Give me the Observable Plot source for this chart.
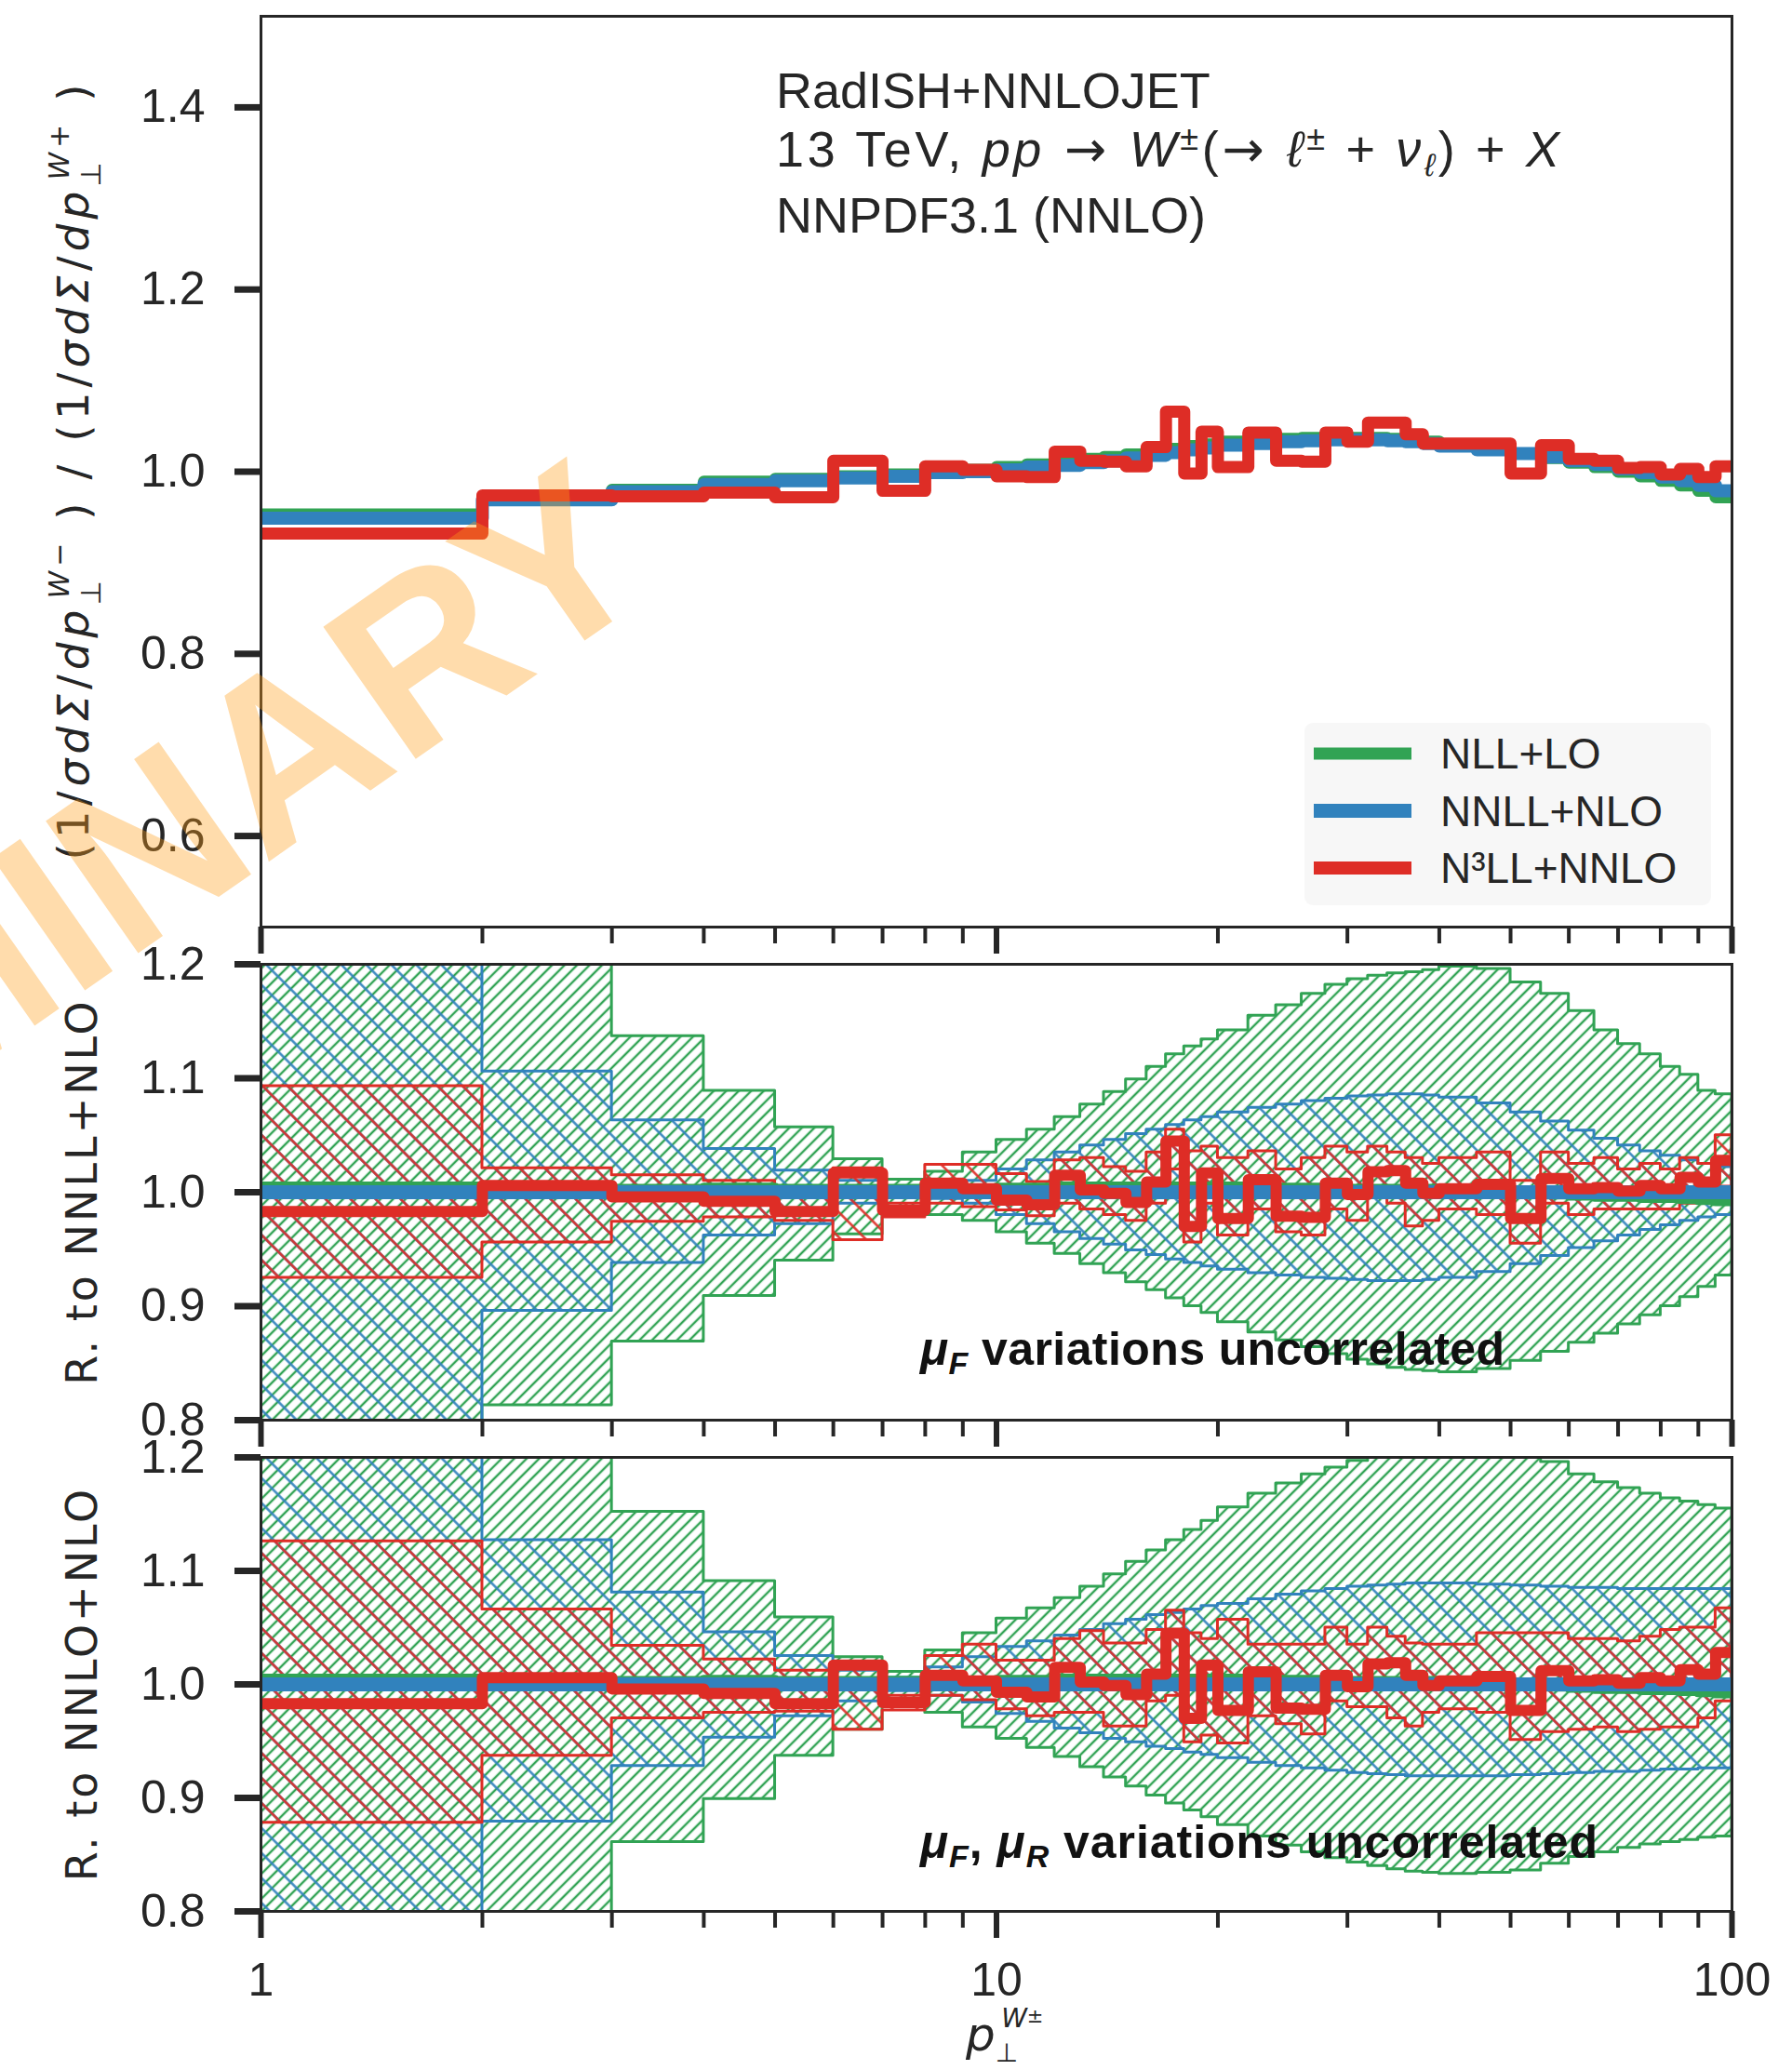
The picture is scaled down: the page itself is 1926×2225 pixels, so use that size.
<!DOCTYPE html>
<html>
<head>
<meta charset="utf-8">
<script src="https://cdn.jsdelivr.net/npm/d3@7"></script>
<script src="https://cdn.jsdelivr.net/npm/@observablehq/plot@0.6"></script>
<style>
html, body { margin:0; padding:0; background:#fff; }
#wrap { position:relative; width:1926px; height:2225px; overflow:hidden; background:#fff; }
#wrap > svg { position:absolute; left:0; overflow:visible; }
</style>
</head>
<body>
<div id="wrap">
<svg id="defs" width="0" height="0" style="position:absolute;top:0;left:0">
<defs>
  <pattern id="hatchNLL" patternUnits="userSpaceOnUse" width="9.5" height="9.5" patternTransform="rotate(45)">
    <line x1="4.75" y1="-1" x2="4.75" y2="10.5" stroke="#31a354" stroke-width="2.4"/>
  </pattern>
  <pattern id="hatchNNLL" patternUnits="userSpaceOnUse" width="19" height="19" patternTransform="rotate(-45)">
    <line x1="9.5" y1="-1" x2="9.5" y2="20" stroke="#3182bd" stroke-width="2.4"/>
  </pattern>
  <pattern id="hatchN3LL" patternUnits="userSpaceOnUse" width="19" height="19" patternTransform="rotate(-45)">
    <line x1="9.5" y1="-1" x2="9.5" y2="20" stroke="#de2d26" stroke-width="2.4"/>
  </pattern>
</defs>
</svg>
</div>
<script>
// ---------------- data ----------------
const binEdges = [1,2,3,4,5,6,7,8,9,10,11,12,13,14,15,16,17,18,19,20,
  22,24,26,28,30,32,34,36,38,40,
  45,50,55,60,65,70,75,80,85,90,95,100];

// top panel: ratio W- / W+
const topNLL = [0.953,0.972,0.980,0.989,0.992,0.995,0.997,1.001,1.002,1.005,1.008,1.011,1.014,1.016,1.019,1.022,1.025,1.028,1.030,
  1.033,1.035,1.036,1.037,1.037,1.037,1.037,1.036,1.035,1.033,
  1.029,1.025,1.020,1.015,1.010,1.005,1.000,0.995,0.990,0.985,0.979,0.972];
const topNNLL = [0.949,0.969,0.978,0.986,0.990,0.993,0.995,0.999,1.000,1.002,1.005,1.007,1.010,1.012,1.015,1.018,1.021,1.024,1.026,
  1.029,1.031,1.033,1.034,1.035,1.035,1.035,1.034,1.033,1.031,
  1.028,1.024,1.020,1.016,1.012,1.008,1.003,0.999,0.994,0.990,0.985,0.979];
const topN3LL = [0.932,0.974,0.973,0.977,0.972,1.012,0.979,1.006,1.002,0.995,0.994,1.022,1.012,1.011,1.006,1.027,1.066,0.998,1.044,
  1.005,1.043,1.012,1.011,1.043,1.033,1.054,1.054,1.041,1.031,
  1.031,1.031,0.998,1.029,1.014,1.012,1.004,1.005,0.997,1.003,0.994,1.006];

// ratio panels: central lines (relative to NNLL+NLO)
const ratioNLL = [1.004,1.003,1.002,1.003,1.002,1.002,1.002,1.002,1.002,1.003,1.003,1.004,1.004,1.004,1.004,1.004,1.004,1.004,1.004,
  1.004,1.004,1.003,1.003,1.002,1.002,1.002,1.002,1.002,1.002,
  1.001,1.001,1.000,0.999,0.998,0.997,0.997,0.996,0.996,0.995,0.994,0.993];
const ratioNNLL = [1.0];
const ratioN3LL = [0.983,1.006,0.996,0.992,0.983,1.017,0.984,1.008,1.003,0.993,0.989,1.015,1.002,0.999,0.991,1.009,1.045,0.970,1.017,
  0.977,1.011,0.979,0.978,1.008,0.998,1.018,1.019,1.008,0.999,
  1.003,1.007,0.977,1.012,1.003,1.004,1.001,1.006,1.003,1.013,1.009,1.028];

// middle panel: muF variations uncorrelated
const nllHiF = [1.35,1.25,1.137,1.089,1.057,1.029,1.011,1.018,1.035,1.046,1.055,1.066,1.077,1.088,1.099,1.110,1.121,1.128,1.134,
  1.142,1.155,1.164,1.174,1.182,1.187,1.190,1.192,1.193,1.195,
  1.198,1.196,1.184,1.174,1.159,1.142,1.130,1.121,1.110,1.103,1.089,1.086];
const nllLoF = [0.65,0.813,0.869,0.909,0.940,0.963,0.987,0.980,0.975,0.965,0.955,0.946,0.937,0.929,0.921,0.914,0.907,0.900,0.894,
  0.886,0.877,0.870,0.864,0.858,0.853,0.849,0.846,0.844,0.843,
  0.842,0.845,0.852,0.860,0.868,0.876,0.884,0.892,0.900,0.908,0.917,0.927];
const nnllHiF = [1.30,1.106,1.063,1.038,1.019,1.010,1.004,1.005,1.010,1.020,1.028,1.035,1.041,1.046,1.051,1.055,1.059,1.063,1.066,
  1.070,1.074,1.077,1.080,1.082,1.084,1.085,1.086,1.086,1.085,
  1.083,1.078,1.070,1.062,1.054,1.047,1.041,1.036,1.032,1.028,1.025,1.022];
const nnllLoF = [0.70,0.896,0.938,0.962,0.972,0.990,0.995,0.994,0.990,0.980,0.972,0.965,0.959,0.954,0.949,0.945,0.941,0.938,0.935,
  0.932,0.929,0.927,0.925,0.924,0.923,0.922,0.922,0.922,0.923,
  0.925,0.930,0.937,0.944,0.951,0.957,0.962,0.967,0.971,0.975,0.978,0.980];
const n3llHiF = [1.093,1.021,1.015,1.010,1.005,1.021,0.990,1.024,1.024,1.016,1.009,1.028,1.030,1.022,1.018,1.035,1.055,1.036,1.040,
  1.030,1.036,1.020,1.030,1.040,1.035,1.040,1.035,1.030,1.025,
  1.030,1.035,1.010,1.035,1.025,1.030,1.020,1.025,1.020,1.030,1.025,1.050];
const n3llLoF = [0.925,0.956,0.974,0.978,0.975,0.958,0.978,0.990,0.987,0.984,0.979,0.990,0.985,0.980,0.975,0.990,1.020,0.956,0.990,
  0.962,0.985,0.965,0.962,0.985,0.975,0.995,0.990,0.970,0.975,
  0.985,0.980,0.955,0.990,0.980,0.985,0.985,0.985,0.985,0.990,0.990,1.005];

// bottom panel: muF, muR variations uncorrelated
const nllHiFR = [1.40,1.30,1.152,1.091,1.059,1.024,1.011,1.030,1.045,1.058,1.067,1.076,1.086,1.097,1.108,1.118,1.127,1.136,1.144,
  1.156,1.168,1.177,1.185,1.191,1.197,1.205,1.210,1.214,1.217,
  1.220,1.218,1.210,1.196,1.185,1.178,1.173,1.168,1.164,1.161,1.158,1.155];
const nllLoFR = [0.60,0.70,0.861,0.899,0.937,0.960,0.982,0.975,0.962,0.952,0.944,0.936,0.927,0.918,0.910,0.902,0.895,0.889,0.883,
  0.876,0.866,0.858,0.852,0.847,0.843,0.840,0.837,0.835,0.834,
  0.833,0.834,0.836,0.842,0.848,0.852,0.856,0.859,0.861,0.863,0.865,0.866];
const nnllHiFR = [1.40,1.127,1.081,1.046,1.025,1.012,1.006,1.015,1.024,1.033,1.038,1.043,1.048,1.053,1.057,1.061,1.063,1.066,1.069,
  1.071,1.075,1.079,1.082,1.084,1.086,1.087,1.088,1.089,1.089,
  1.089,1.088,1.087,1.086,1.085,1.085,1.084,1.084,1.084,1.084,1.084,1.084];
const nnllLoFR = [0.60,0.879,0.928,0.953,0.972,0.985,0.994,0.990,0.984,0.974,0.967,0.961,0.957,0.952,0.949,0.945,0.943,0.940,0.938,
  0.935,0.931,0.928,0.926,0.924,0.922,0.921,0.920,0.919,0.919,
  0.919,0.919,0.920,0.921,0.922,0.923,0.923,0.924,0.925,0.925,0.926,0.926];
const n3llHiFR = [1.126,1.066,1.034,1.022,1.012,1.020,0.990,1.025,1.035,1.021,1.021,1.040,1.047,1.036,1.036,1.048,1.065,1.045,1.040,
  1.057,1.035,1.035,1.035,1.050,1.035,1.050,1.042,1.036,1.035,
  1.035,1.045,1.045,1.045,1.040,1.040,1.038,1.042,1.048,1.050,1.050,1.067];
const n3llLoFR = [0.878,0.937,0.970,0.975,0.976,0.960,0.977,0.990,0.986,0.978,0.972,0.975,0.975,0.963,0.963,0.985,0.990,0.949,0.955,
  0.948,0.972,0.965,0.956,0.985,0.980,0.980,0.970,0.963,0.975,
  0.978,0.975,0.951,0.958,0.960,0.962,0.958,0.960,0.962,0.962,0.970,0.985];

const legendLabels = ["NLL+LO", "NNLL+NLO", "N³LL+NNLO"];
const topYTicks = [0.6, 0.8, 1.0, 1.2, 1.4];
const ratioYTicks = [0.8, 0.9, 1.0, 1.1, 1.2];
const majorX = [1, 10, 100];
const minorX = [2,3,4,5,6,7,8,9,20,30,40,50,60,70,80,90];

// ---------------- drawing ----------------
const colNLL = "#31a354", colNNLL = "#3182bd", colN3LL = "#de2d26";
const ink = "#262626";
const font = "'Liberation Sans', Arial, sans-serif";

function stepRows(vals) { return binEdges.map((x, i) => ({x, y: vals[Math.min(i, vals.length - 1)]})); }
function bandRows(lo, hi) { return binEdges.map((x, i) => ({x, lo: lo[Math.min(i, lo.length - 1)], hi: hi[Math.min(i, hi.length - 1)]})); }

function stepLine(vals, stroke, w) {
  return Plot.line(stepRows(vals), {x: "x", y: "y", curve: "step-after", stroke, strokeWidth: w, strokeLinejoin: "round", clip: true});
}
function band(lo, hi, fill, stroke) {
  return Plot.areaY(bandRows(lo, hi), {x: "x", y1: "lo", y2: "hi", curve: "step-after", fill, stroke, strokeWidth: 3, clip: true});
}
function xAxes(showLabels) {
  return [
    Plot.axisX({ticks: majorX, tickSize: 29, strokeWidth: 6, tickPadding: 26, label: null, fontSize: 50,
      tickFormat: showLabels ? (d => String(d)) : (() => "")}),
    Plot.axisX({ticks: minorX, tickSize: 18, strokeWidth: 4, label: null, tickFormat: () => ""})
  ];
}
function yAxis(ticks) {
  return Plot.axisY({ticks, tickSize: 28, strokeWidth: 7, tickPadding: 32, label: null, fontSize: 50, tickFormat: d3.format(".1f")});
}
function panel(o) {
  return Plot.plot({
    width: 1926, height: o.height,
    marginLeft: 280, marginRight: 65, marginTop: o.mt, marginBottom: o.mb,
    x: {type: "log", domain: [1, 100]},
    y: {domain: o.yDomain},
    style: {background: "transparent", overflow: "visible", fontFamily: font, fontSize: "50px", color: ink},
    marks: [...o.marks, yAxis(o.yTicks), ...xAxes(o.xLabels), Plot.frame({stroke: ink, strokeWidth: 3})]
  });
}
function ratioMarks(gLo, gHi, bLo, bHi, rLo, rHi) {
  return [
    band(gLo, gHi, "url(#hatchNLL)", colNLL),
    band(bLo, bHi, "url(#hatchNNLL)", colNNLL),
    band(rLo, rHi, "url(#hatchN3LL)", colN3LL),
    stepLine(ratioNLL, colNLL, 13),
    Plot.ruleY(ratioNNLL, {stroke: colNNLL, strokeWidth: 15}),
    stepLine(ratioN3LL, colN3LL, 12)
  ];
}

const wrap = document.getElementById("wrap");
function place(svg, top) { svg.style.top = top + "px"; svg.style.left = "0px"; wrap.appendChild(svg); }

place(panel({height: 1036, mt: 17, mb: 40, yDomain: [0.5, 1.5], yTicks: topYTicks, xLabels: false,
  marks: [stepLine(topNLL, colNLL, 13), stepLine(topNNLL, colNNLL, 14), stepLine(topN3LL, colN3LL, 13)]}), 0);

place(panel({height: 550, mt: 30, mb: 30, yDomain: [0.8, 1.2], yTicks: ratioYTicks, xLabels: false,
  marks: ratioMarks(nllLoF, nllHiF, nnllLoF, nnllHiF, n3llLoF, n3llHiF)}), 1006);

place(panel({height: 689, mt: 30, mb: 171, yDomain: [0.8, 1.2], yTicks: ratioYTicks, xLabels: true,
  marks: ratioMarks(nllLoFR, nllHiFR, nnllLoFR, nnllHiFR, n3llLoFR, n3llHiFR)}), 1536);

// ---------------- overlay: labels, legend, annotations, watermark ----------------
const ov = d3.select(wrap).append("svg").attr("width", 1926).attr("height", 2225)
  .style("top", "0px").style("pointer-events", "none");

// legend
const lg = ov.append("g");
lg.append("rect").attr("x", 1402).attr("y", 777).attr("width", 437).attr("height", 196).attr("rx", 9)
  .attr("fill", "#f7f7f7").attr("fill-opacity", 0.95);
const lgCols = [colNLL, colNNLL, colN3LL], lgW = [13, 15, 14];
legendLabels.forEach((t, i) => {
  const y = 810 + i * 61.5;
  lg.append("line").attr("x1", 1412).attr("x2", 1517).attr("y1", y).attr("y2", y)
    .attr("stroke", lgCols[i]).attr("stroke-width", lgW[i]);
  lg.append("text").attr("x", 1548).attr("y", y + 16).attr("font-family", font).attr("font-size", 46)
    .attr("fill", ink).text(t);
});

// top annotation
const ann = ov.append("g").attr("font-family", font).attr("font-size", 54).attr("fill", ink);
ann.append("text").attr("x", 834).attr("y", 116).text("RadISH+NNLOJET");
const l2 = ann.append("text").attr("x", 834).attr("y", 179).attr("textLength", 842).attr("lengthAdjust", "spacing");
l2.append("tspan").text("13 TeV, ");
l2.append("tspan").attr("font-style", "italic").text("pp");
l2.append("tspan").attr("font-family", "'DejaVu Sans'").text(" → ");
l2.append("tspan").attr("font-style", "italic").text("W");
l2.append("tspan").attr("font-size", 36).attr("dy", -18).text("±");
l2.append("tspan").attr("dy", 18).text("(");
l2.append("tspan").attr("font-family", "'DejaVu Sans'").text("→ ");
l2.append("tspan").attr("font-style", "italic").text("ℓ");
l2.append("tspan").attr("font-size", 36).attr("dy", -18).text("±");
l2.append("tspan").attr("dy", 18).text(" + ");
l2.append("tspan").attr("font-style", "italic").text("ν");
l2.append("tspan").attr("font-size", 34).attr("font-style", "italic").attr("dy", 10).text("ℓ");
l2.append("tspan").attr("dy", -10).text(") + ");
l2.append("tspan").attr("font-style", "italic").text("X");
ann.append("text").attr("x", 834).attr("y", 250).text("NNPDF3.1 (NNLO)");

// ratio-panel annotations
function muText(y, len, parts) {
  const t = ov.append("text").attr("x", 989).attr("y", y).attr("font-family", font).attr("font-size", 50)
    .attr("font-weight", "bold").attr("fill", "#111").attr("textLength", len).attr("lengthAdjust", "spacing");
  parts.forEach(p => {
    const s = t.append("tspan").text(p.t);
    if (p.it) s.attr("font-style", "italic");
    if (p.sub) s.attr("font-size", 34).attr("dy", 10);
    if (p.back) s.attr("dy", -10);
  });
}
muText(1467, 628, [{t: "μ", it: true}, {t: "F", it: true, sub: true}, {t: " variations uncorrelated", back: true}]);
muText(1997, 728, [{t: "μ", it: true}, {t: "F", it: true, sub: true}, {t: ", ", back: true}, {t: "μ", it: true},
  {t: "R", it: true, sub: true}, {t: " variations uncorrelated", back: true}]);

// y labels
function yLabel(cx, cy, build) {
  const t = ov.append("text").attr("transform", `translate(${cx},${cy}) rotate(-90)`)
    .attr("text-anchor", "middle").attr("font-family", "'DejaVu Sans', sans-serif").attr("fill", ink);
  build(t);
}
function ratioPiece(t, sign) {
  t.append("tspan").text("(1/");
  t.append("tspan").attr("font-style", "italic").text("σdΣ");
  t.append("tspan").text("/");
  t.append("tspan").attr("font-style", "italic").text("dp");
  t.append("tspan").attr("font-size", 30).attr("dy", 13).text("⊥");
  t.append("tspan").attr("font-size", 30).attr("font-style", "italic").attr("dx", -24).attr("dy", -34).text("W" + sign);
  t.append("tspan").attr("dy", 21).text(" )");
}
yLabel(95, 505, t => {
  t.attr("font-size", 47).attr("letter-spacing", 5);
  ratioPiece(t, "−");
  t.append("tspan").text("  /  ");
  ratioPiece(t, "+");
});
yLabel(104, 1281, t => t.attr("font-size", 46).attr("letter-spacing", 3).text("R. to NNLL+NLO"));
yLabel(104, 1810, t => t.attr("font-size", 46).attr("letter-spacing", 3).text("R. to NNLO+NLO"));

// x label
const xl = ov.append("text").attr("x", 1038).attr("y", 2204).attr("font-family", "'DejaVu Sans', sans-serif")
  .attr("font-size", 50).attr("fill", ink);
xl.append("tspan").attr("font-style", "italic").text("p");
xl.append("tspan").attr("font-size", 28).attr("dy", 12).text("⊥");
xl.append("tspan").attr("font-size", 28).attr("font-style", "italic").attr("dx", -18).attr("dy", -37).text("W");
xl.append("tspan").attr("font-size", 21).attr("dy", -5).text("±");

// watermark
ov.append("text").attr("transform", "translate(712,630) rotate(-35)").attr("text-anchor", "end")
  .attr("font-family", font).attr("font-weight", "bold").attr("font-size", 252)
  .attr("fill", "#ff9f1a").attr("fill-opacity", 0.36)
  .text("PRELIMINARY");
</script>
</body>
</html>
